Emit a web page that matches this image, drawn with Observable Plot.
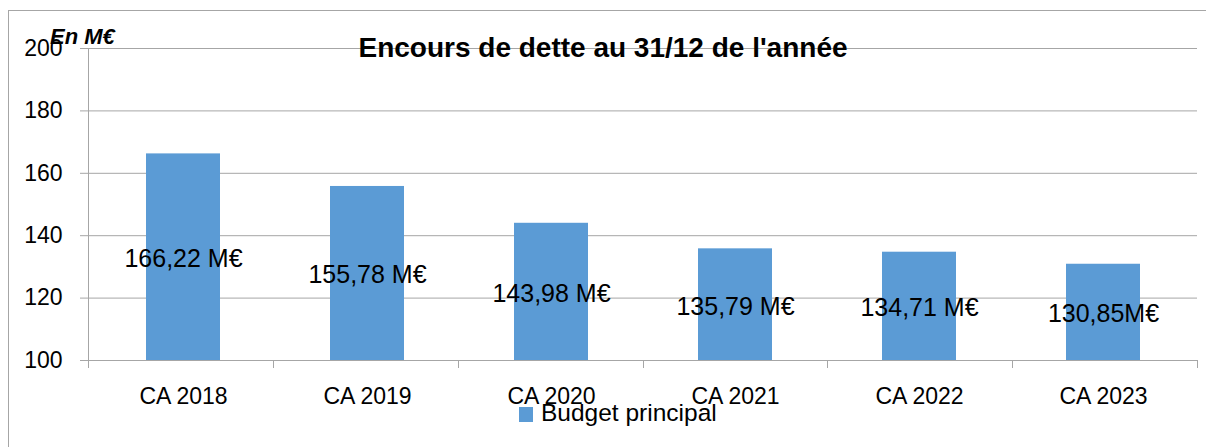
<!DOCTYPE html>
<html>
<head>
<meta charset="utf-8">
<script src="https://cdn.jsdelivr.net/npm/d3@7"></script>
<script src="https://cdn.jsdelivr.net/npm/@observablehq/plot@0.6"></script>
<style>
  html, body { margin: 0; padding: 0; background: #fff; overflow: hidden; }
  #wrap { position: relative; width: 1206px; height: 447px; overflow: hidden; font-family: "Liberation Sans", Arial, sans-serif; }
  #border { position: absolute; left: 8px; top: 10px; width: 1400px; height: 600px; border: 1px solid #a6a6a6; box-sizing: border-box; }
  #chart { position: absolute; left: 0; top: 0; }
  #overlay { position: absolute; left: 0; top: 0; pointer-events: none; }
</style>
</head>
<body>
<div id="wrap">
  <div id="border"></div>
  <div id="chart"></div>
  <svg id="overlay" width="1206" height="447"></svg>
</div>
<script>
// ---- data ----
const categories = ["CA 2018", "CA 2019", "CA 2020", "CA 2021", "CA 2022", "CA 2023"];
const values = [166.22, 155.78, 143.98, 135.79, 134.71, 130.85];
const valueLabels = ["166,22 M€", "155,78 M€", "143,98 M€", "135,79 M€", "134,71 M€", "130,85M€"];
const yTicks = [100, 120, 140, 160, 180, 200];
const seriesName = "Budget principal";
const title = "Encours de dette au 31/12 de l'année";
const unitLabel = "En M€";

const BLUE = "#5b9bd5";
const GRID = "#a6a6a6";
const FONT = "Liberation Sans, Arial, sans-serif";
const YMIN = yTicks[0];

const data = categories.map((c, i) => ({ cat: c, value: values[i], label: valueLabels[i] }));

// boundary tick marks below the x axis (category separators)
function boundaryTicks(index, scales, vals, dims) {
  const n = categories.length;
  const step = (dims.width - dims.marginLeft - dims.marginRight) / n;
  const y0 = scales.y(YMIN);
  const g = d3.create("svg:g").attr("stroke", GRID).attr("stroke-width", 1);
  for (let i = 0; i <= n; i++) {
    const x = Math.round(dims.marginLeft + i * step) + 0.5;
    g.append("line").attr("x1", x).attr("x2", x).attr("y1", y0).attr("y2", y0 + 8);
  }
  return g.node();
}

const chart = Plot.plot({
  width: 1206,
  height: 447,
  marginLeft: 88,
  marginRight: 9,
  marginTop: 48,
  marginBottom: 87,
  style: { fontFamily: FONT, fontSize: "23px", color: "#000", background: "transparent" },
  x: { domain: categories, paddingInner: 0.6, paddingOuter: 0.3, label: null },
  y: { domain: [YMIN, yTicks[yTicks.length - 1]], label: null },
  marks: [
    Plot.gridY(yTicks, { stroke: GRID, strokeOpacity: 1, strokeWidth: 1 }),
    Plot.frame({ anchor: "left", stroke: GRID, strokeOpacity: 1 }),
    Plot.barY(data, { x: "cat", y1: YMIN, y2: "value", fill: BLUE }),
    boundaryTicks,
    Plot.axisY({ ticks: yTicks, tickSize: 8, tickPadding: 18, stroke: GRID, fill: "#000", fontSize: 23, label: null }),
    Plot.axisX({ tickSize: 0, tickPadding: 27, fill: "#000", fontSize: 23, label: null }),
    Plot.text(data, { x: "cat", y: d => (d.value + YMIN) / 2, text: "label", fontSize: 25, fill: "#000", dy: 2 })
  ]
});
document.getElementById("chart").appendChild(chart);

// title, unit label, legend
const ov = d3.select("#overlay");
ov.append("text").attr("x", 603).attr("y", 57).attr("text-anchor", "middle")
  .attr("font-family", FONT).attr("font-size", 28).attr("font-weight", "bold").attr("fill", "#000")
  .text(title);
ov.append("text").attr("x", 50).attr("y", 44)
  .attr("font-family", FONT).attr("font-size", 22).attr("font-weight", "bold").attr("font-style", "italic").attr("fill", "#000")
  .text(unitLabel);
ov.append("rect").attr("x", 519).attr("y", 407).attr("width", 14).attr("height", 15).attr("fill", BLUE);
ov.append("text").attr("x", 541).attr("y", 421)
  .attr("font-family", FONT).attr("font-size", 24.5).attr("fill", "#000")
  .text(seriesName);
</script>
</body>
</html>
